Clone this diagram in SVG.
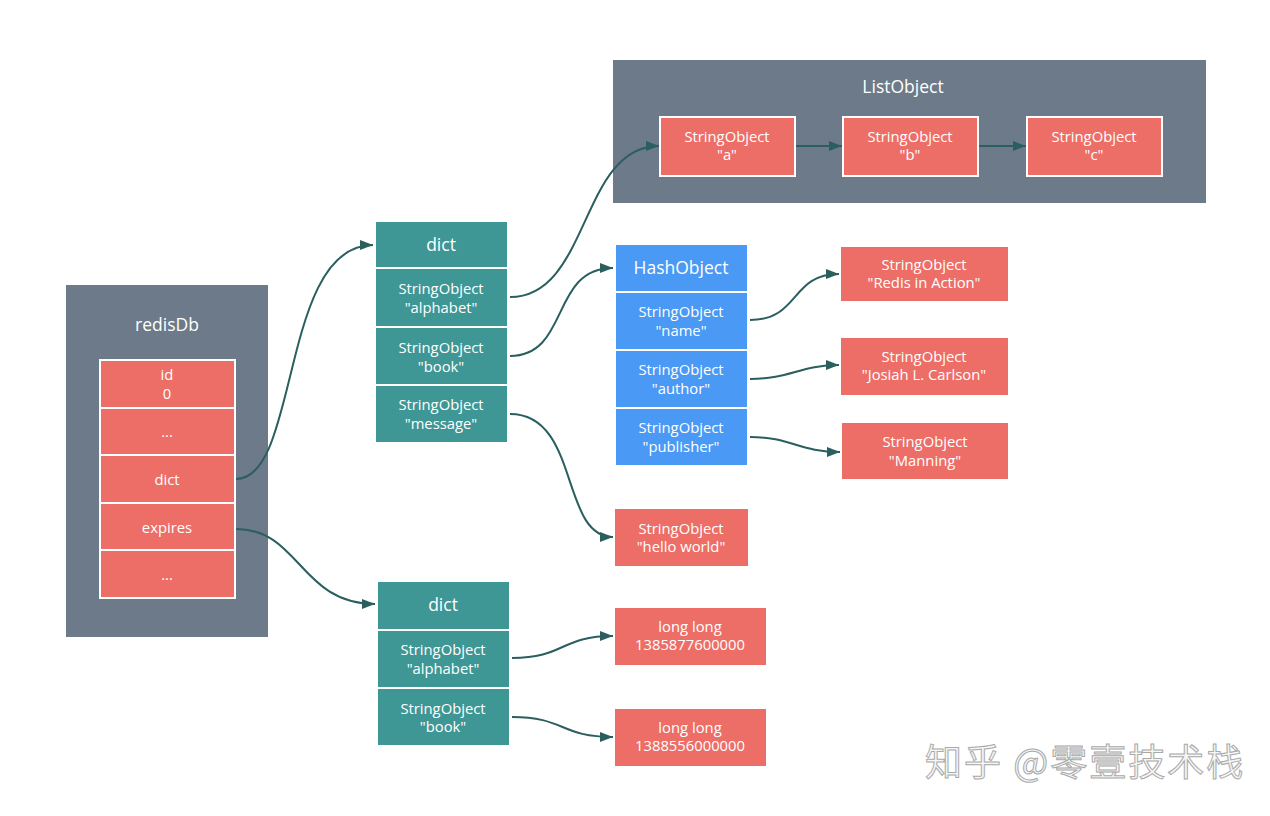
<svg xmlns="http://www.w3.org/2000/svg" width="1270" height="816" viewBox="0 0 1270 816">
<style>
.frame{fill:#6d7a89}
.red{fill:#ec6e67;stroke:#fff;stroke-width:2}
.redp{fill:#ec6e67}
.teal{fill:#3e9695;stroke:#fff;stroke-width:2}
.blue{fill:#4a99f5;stroke:#fff;stroke-width:2}
text{font-family:"Open Sans","Noto Sans","Liberation Sans",sans-serif;fill:#fff;text-anchor:middle}
.t{font-size:14.8px}
.h{font-size:17.5px}
.c{fill:none;stroke:#2a5e5f;stroke-width:2;marker-end:url(#ah)}
.wm{font-family:"Noto Sans CJK SC","Noto Sans",sans-serif;font-size:37px;letter-spacing:2px;fill:#f6f6f6;stroke:#a9a9a9;stroke-width:1;text-anchor:start}
</style>
<defs>
<marker id="ah" viewBox="0 0 13 10" refX="13" refY="5" markerWidth="14" markerHeight="10" markerUnits="userSpaceOnUse" orient="auto">
<path d="M0,0 L13,5 L0,10 Z" fill="#2a5e5f"/>
</marker>
</defs>
<rect width="1270" height="816" fill="#fff"/>

<g id="redisDb">
<rect class="frame" x="66" y="285" width="202" height="352"/>
<text class="h" x="167" y="331">redisDb</text>
<rect class="red" x="100" y="360" width="135" height="48"/>
<text class="t" x="167" y="380">id</text><text class="t" x="167" y="399">0</text>
<rect class="red" x="100" y="408" width="135" height="47"/>
<text class="t" x="167" y="437">...</text>
<rect class="red" x="100" y="455" width="135" height="48"/>
<text class="t" x="167" y="485">dict</text>
<rect class="red" x="100" y="503" width="135" height="47"/>
<text class="t" x="167" y="533">expires</text>
<rect class="red" x="100" y="550" width="135" height="48"/>
<text class="t" x="167" y="580">...</text>
</g>

<g id="dict1">
<rect class="teal" x="375" y="221" width="133" height="47"/>
<text class="h" x="441" y="251">dict</text>
<rect class="teal" x="375" y="268" width="133" height="59"/>
<text class="t" x="441" y="294">StringObject</text><text class="t" x="441" y="313">"alphabet"</text>
<rect class="teal" x="375" y="327" width="133" height="58"/>
<text class="t" x="441" y="353">StringObject</text><text class="t" x="441" y="372">"book"</text>
<rect class="teal" x="375" y="385" width="133" height="58"/>
<text class="t" x="441" y="410">StringObject</text><text class="t" x="441" y="429">"message"</text>
</g>

<g id="listObject">
<rect class="frame" x="613" y="60" width="593" height="143"/>
<text class="h" x="903" y="93">ListObject</text>
</g>
<g id="strA">
<rect class="red" x="660" y="117" width="135" height="59"/>
<text class="t" x="727" y="142">StringObject</text><text class="t" x="727" y="160">"a"</text>
</g>
<g id="strB">
<rect class="red" x="843" y="117" width="135" height="59"/>
<text class="t" x="910" y="142">StringObject</text><text class="t" x="910" y="160">"b"</text>
</g>
<g id="strC">
<rect class="red" x="1027" y="117" width="135" height="59"/>
<text class="t" x="1094" y="142">StringObject</text><text class="t" x="1094" y="160">"c"</text>
</g>

<g id="hashObject">
<rect class="blue" x="615" y="244" width="133" height="48"/>
<text class="h" x="681" y="274">HashObject</text>
<rect class="blue" x="615" y="292" width="133" height="58"/>
<text class="t" x="681" y="317">StringObject</text><text class="t" x="681" y="336">"name"</text>
<rect class="blue" x="615" y="350" width="133" height="58"/>
<text class="t" x="681" y="375">StringObject</text><text class="t" x="681" y="394">"author"</text>
<rect class="blue" x="615" y="408" width="133" height="58"/>
<text class="t" x="681" y="433">StringObject</text><text class="t" x="681" y="452">"publisher"</text>
</g>

<g id="strRedis">
<rect class="redp" x="841" y="247" width="167" height="54"/>
<text class="t" x="924" y="270">StringObject</text><text class="t" x="924" y="288">"Redis in Action"</text>
</g>
<g id="strJosiah">
<rect class="redp" x="841" y="338" width="167" height="57"/>
<text class="t" x="924" y="362">StringObject</text><text class="t" x="924" y="380">"Josiah L. Carlson"</text>
</g>
<g id="strManning">
<rect class="redp" x="842" y="423" width="166" height="56"/>
<text class="t" x="925" y="447">StringObject</text><text class="t" x="925" y="466">"Manning"</text>
</g>
<g id="strHello">
<rect class="redp" x="615" y="509" width="133" height="57"/>
<text class="t" x="681" y="534">StringObject</text><text class="t" x="681" y="552">"hello world"</text>
</g>

<g id="dict2">
<rect class="teal" x="377" y="581" width="133" height="49"/>
<text class="h" x="443" y="611">dict</text>
<rect class="teal" x="377" y="630" width="133" height="58"/>
<text class="t" x="443" y="655">StringObject</text><text class="t" x="443" y="674">"alphabet"</text>
<rect class="teal" x="377" y="688" width="133" height="58"/>
<text class="t" x="443" y="714">StringObject</text><text class="t" x="443" y="732">"book"</text>
</g>

<g id="long1">
<rect class="redp" x="615" y="608" width="151" height="57"/>
<text class="t" x="690" y="632">long long</text><text class="t" x="690" y="650">1385877600000</text>
</g>
<g id="long2">
<rect class="redp" x="615" y="709" width="151" height="57"/>
<text class="t" x="690" y="733">long long</text><text class="t" x="690" y="751">1388556000000</text>
</g>

<g id="connectors">
<path class="c" d="M236,479 C300,479 280,245 373,245"/>
<path class="c" d="M236,529 C300,529 300,604 375,604"/>
<path class="c" d="M510,297 C590,297 580,146 659,146"/>
<path class="c" d="M510,356 C570,356 550,268 613,268"/>
<path class="c" d="M510,414 C580,414 560,537 613,537"/>
<path class="c" d="M750,320 C800,320 790,274 839,274"/>
<path class="c" d="M750,379 C790,379 800,365 839,365"/>
<path class="c" d="M750,437 C790,437 800,452 840,452"/>
<path class="c" d="M796,146 L842,146"/>
<path class="c" d="M979,146 L1026,146"/>
<path class="c" d="M512,658 C565,658 560,636 613,636"/>
<path class="c" d="M512,717 C565,717 560,737 613,737"/>
</g>

<text class="wm" x="925" y="776">知乎 @零壹技术栈</text>
</svg>
